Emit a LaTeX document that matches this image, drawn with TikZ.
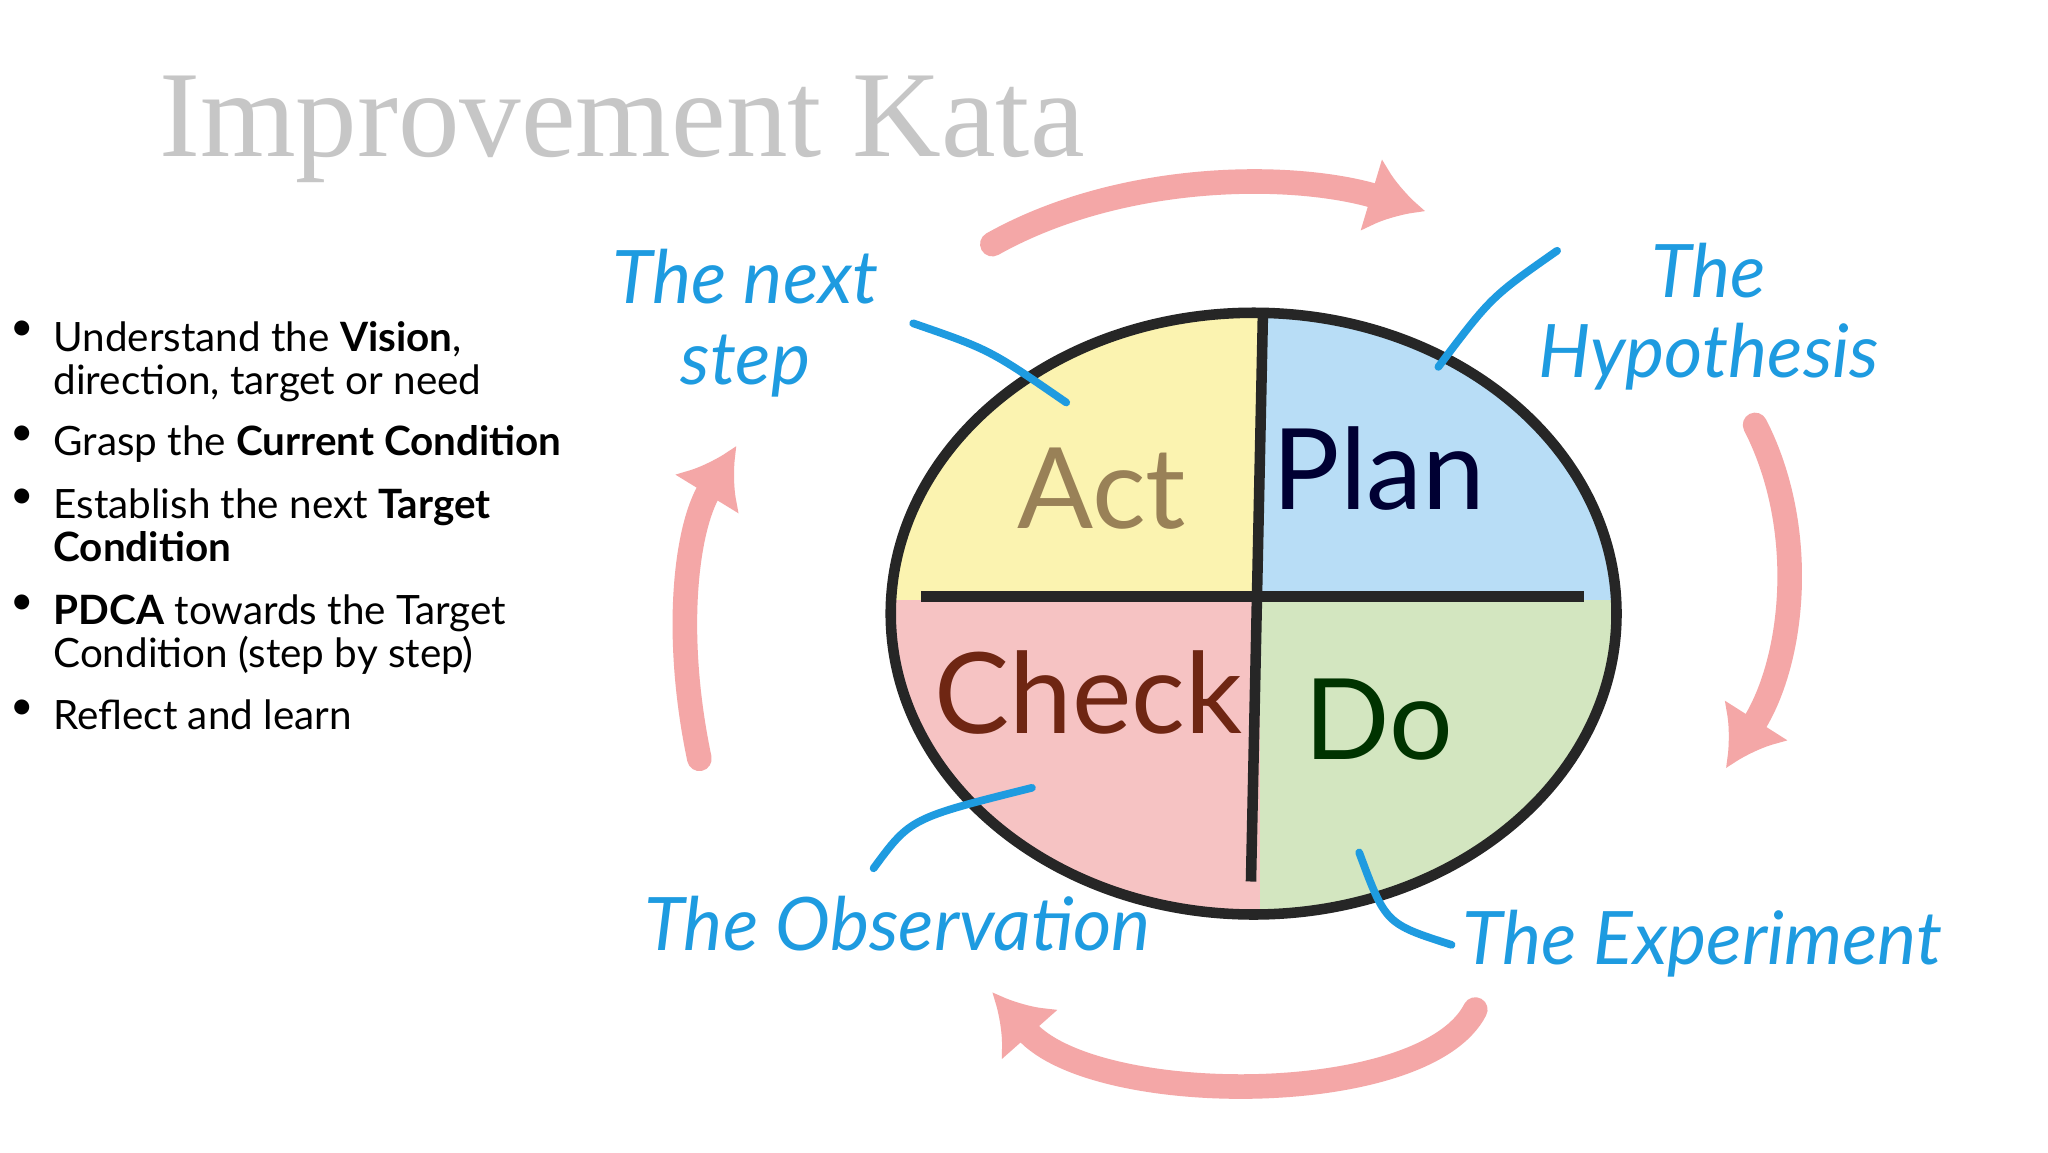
\documentclass[tikz,border=0pt]{standalone}
\usepackage{fontspec}
\setmainfont{Lato}
\newfontfamily\titlef{Liberation Serif}
\usetikzlibrary{arrows.meta,shapes.geometric}
\definecolor{hb}{HTML}{1E9BE0}
\definecolor{pk}{HTML}{F4A7A7}
\definecolor{yl}{HTML}{FBF3B0}
\definecolor{bl}{HTML}{B8DDF6}
\definecolor{rd}{HTML}{F6C3C3}
\definecolor{gr}{HTML}{D3E6C0}
\begin{document}
\begin{tikzpicture}[x=0.0132cm,y=-0.0132cm,
 bul/.style={anchor=north west,align=left,font=\fontsize{11.5}{12.2}\selectfont,inner sep=0},
 hand/.style={text=hb,font=\fontsize{21}{23}\selectfont\itshape,align=center,inner sep=0},
 quad/.style={font=\fontsize{32}{32}\selectfont,inner sep=0},
 lead/.style={hb,line width=2.2pt,line cap=round},
 parrow/.style={pk,line width=7pt,line cap=round,-{Latex[length=16pt,width=22pt]}}]
\useasboundingbox (0,0) rectangle (1552,873);
\fill[white] (0,0) rectangle (1552,873);
\node[anchor=west,text=gray!45,font=\titlef\fontsize{35}{35}\selectfont,inner sep=0] (title) at (120,98) {Improvement Kata};
% bullets
\foreach \y/\t [count=\i] in {243/{Understand the \textbf{Vision},\\direction, target or need},
 322/{Grasp the \textbf{Current Condition}},
 370/{Establish the next \textbf{Target}\\\textbf{Condition}},
 450/{\textbf{PDCA} towards the Target\\Condition (step\ by step)},
 530/{Reflect and learn}}{
 \node[bul] (b\i) at (40,\y) {\t};
 \node[anchor=north,inner sep=0,font=\fontsize{11.5}{12}\selectfont] (d\i) at (17,\y) {\textbullet};
}
% quadrants
\begin{scope}
\clip (950,465) ellipse [x radius=275, y radius=228];
\fill[yl] (600,200) rectangle (955,455);
\fill[bl] (955,200) rectangle (1250,455);
\fill[rd] (600,455) rectangle (955,720);
\fill[gr] (955,455) rectangle (1250,720);
\end{scope}
\draw[black!85,line width=3pt] (950,465) ellipse [x radius=275, y radius=228];
\coordinate (circ) at (950,465);
\coordinate (vt) at (957,240); \coordinate (vb) at (948,668);
\coordinate (hl) at (698,452); \coordinate (hr) at (1200,452);
\draw[black!85,line width=3pt] (vt) -- (vb);
\draw[black!85,line width=3pt] (hl) -- (hr);
\node[quad,text=black!75!yellow!40!brown] (act) at (835,370) {Act};
\node[quad,text=black!80!blue] (plan) at (1045,355) {Plan};
\node[quad,text=black!70!red!70!brown] (check) at (825,525) {Check};
\node[quad,text=black!80!green] (do) at (1045,545) {Do};
% hand labels
\node[hand] (next) at (565,245) {The next\\step};
\node[hand] (hyp) at (1295,240) {The\\Hypothesis};
\node[hand] (obs) at (680,700) {The Observation};
\node[hand] (exp) at (1290,715) {The Experiment};
\coordinate (l1) at (692,245); \coordinate (l1e) at (808,305);
\coordinate (l2) at (1180,190); \coordinate (l2e) at (1090,278);
\coordinate (l3) at (662,658); \coordinate (l3e) at (782,597);
\coordinate (l4) at (1100,716); \coordinate (l4e) at (1030,646);
\draw[lead] (l1) .. controls (750,265) .. (l1e);
\draw[lead] (l2) .. controls (1130,225) .. (l2e);
\draw[lead] (l3) .. controls (690,620) .. (l3e);
\draw[lead] (l4) .. controls (1050,700) .. (l4e);
% pink arrows
\coordinate (a1s) at (752,185); \coordinate (a1e) at (1080,160);
\coordinate (a2s) at (1330,322); \coordinate (a2e) at (1308,582);
\coordinate (a3s) at (1118,765); \coordinate (a3e) at (752,752);
\coordinate (a4s) at (530,575); \coordinate (a4e) at (558,338);
\draw[parrow] (a1s) .. controls (850,130) and (980,130) .. (a1e);
\draw[parrow] (a2s) .. controls (1370,400) and (1360,500) .. (a2e);
\draw[parrow] (a3s) .. controls (1080,840) and (830,840) .. (a3e);
\draw[parrow] (a4s) .. controls (510,480) and (520,400) .. (a4e);
\end{tikzpicture}
\end{document}
